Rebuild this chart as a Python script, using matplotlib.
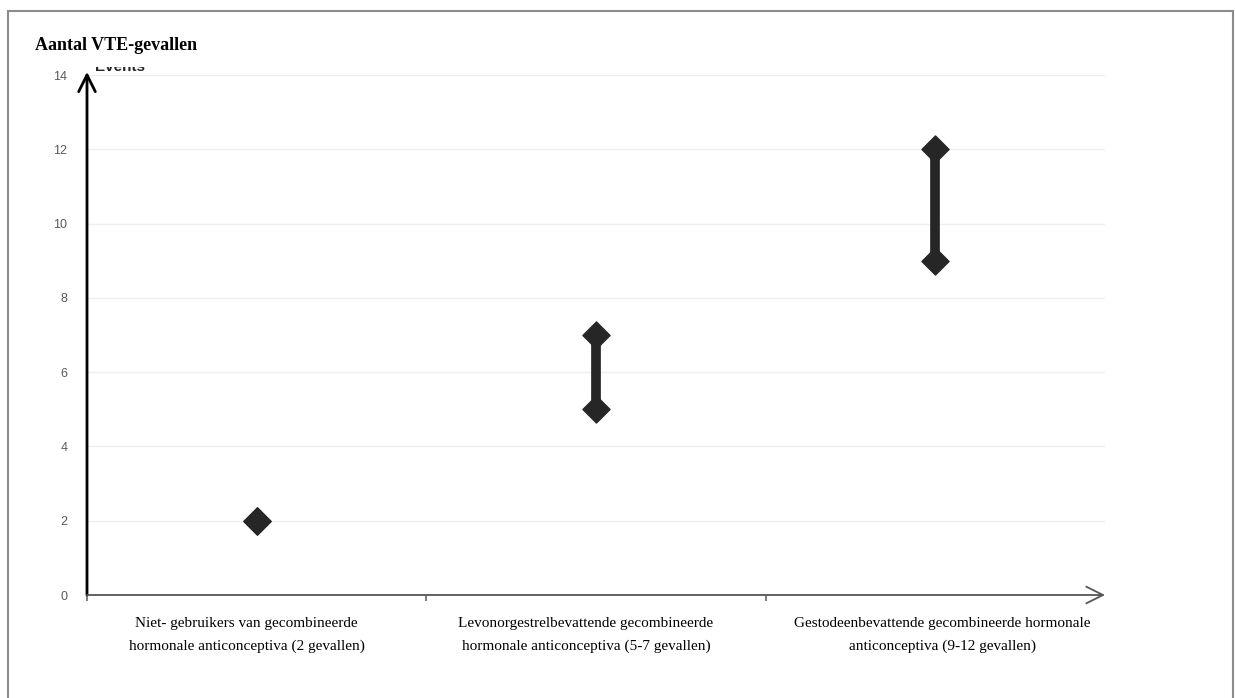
import matplotlib.pyplot as plt
from matplotlib.patches import Rectangle

# data
categories = ['Niet- gebruikers van gecombineerde\nhormonale anticonceptiva (2 gevallen)',
              'Levonorgestrelbevattende gecombineerde\nhormonale anticonceptiva (5-7 gevallen)',
              'Gestodeenbevattende gecombineerde hormonale\nanticonceptiva (9-12 gevallen)']
low = [2, 5, 9]
high = [2, 7, 12]
yticks = [0, 2, 4, 6, 8, 10, 12, 14]

fig = plt.figure(figsize=(12.35, 6.98), dpi=100)
W, H = 1235, 698

# grey frame around the chart
fig.patches.append(Rectangle((8 / W, -0.1), (1233 - 8) / W, (698 - 11) / H + 0.1,
                             transform=fig.transFigure, fill=False,
                             edgecolor='#8c8c8c', linewidth=1.5))

ax = fig.add_axes([87 / W, 103 / H, (1105 - 87) / W, 520 / H])
x = range(len(categories))

for i in x:
    if high[i] != low[i]:
        ax.plot([i, i], [low[i], high[i]], color='#262626', linewidth=7,
                solid_capstyle='butt', zorder=3)
ax.scatter(list(x), low, marker='D', s=190, color='#262626', zorder=4)
ax.scatter(list(x), high, marker='D', s=190, color='#262626', zorder=4)

ax.set_xlim(-0.5, 2.5)
ax.set_ylim(0, 14)
ax.set_yticks(yticks)
ax.set_yticklabels([str(v) for v in yticks], fontsize=9, color='#595959',
                   family='Liberation Sans')
ax.set_xticks([-0.5, 0.5, 1.5])
ax.set_xticklabels([])
ax.tick_params(axis='x', length=4, color='#808080', width=1.5)
ax.tick_params(axis='y', length=0, pad=14)
ax.grid(axis='y', color='#efefef', linewidth=1)
ax.set_axisbelow(True)
for s in ['top', 'right', 'left', 'bottom']:
    ax.spines[s].set_visible(False)

# axis arrows
ax.annotate('', xy=(0, 1.006), xytext=(0, 0), xycoords='axes fraction',
            arrowprops=dict(arrowstyle='->', color='black', lw=2,
                            mutation_scale=30, shrinkA=0, shrinkB=0))
ax.annotate('', xy=(1.0, 0), xytext=(0, 0), xycoords='axes fraction',
            arrowprops=dict(arrowstyle='->', color='#555555', lw=1.3,
                            mutation_scale=30, shrinkA=0, shrinkB=0))

offsets = [-0.03, -0.03, 0.02]
for i in x:
    ax.text(i + offsets[i], -0.6, categories[i], ha='center', va='top', fontsize=11,
            family='Liberation Serif', linespacing=1.85)

fig.text(35 / W, 1 - 45 / H, 'Aantal VTE-gevallen', fontsize=13, weight='bold',
         family='Liberation Serif', va='center')

# partly hidden "Events" label behind the top of the axis
ev = fig.text(95 / W, 1 - 67 / H, 'Events', fontsize=11, weight='bold',
              family='Liberation Sans', color='#262626', va='center')
clip = Rectangle((90 / W, 1 - 74 / H), 70 / W, 7 / H, transform=fig.transFigure)
ev.set_clip_path(clip)

fig.savefig('out.png', dpi=100)
